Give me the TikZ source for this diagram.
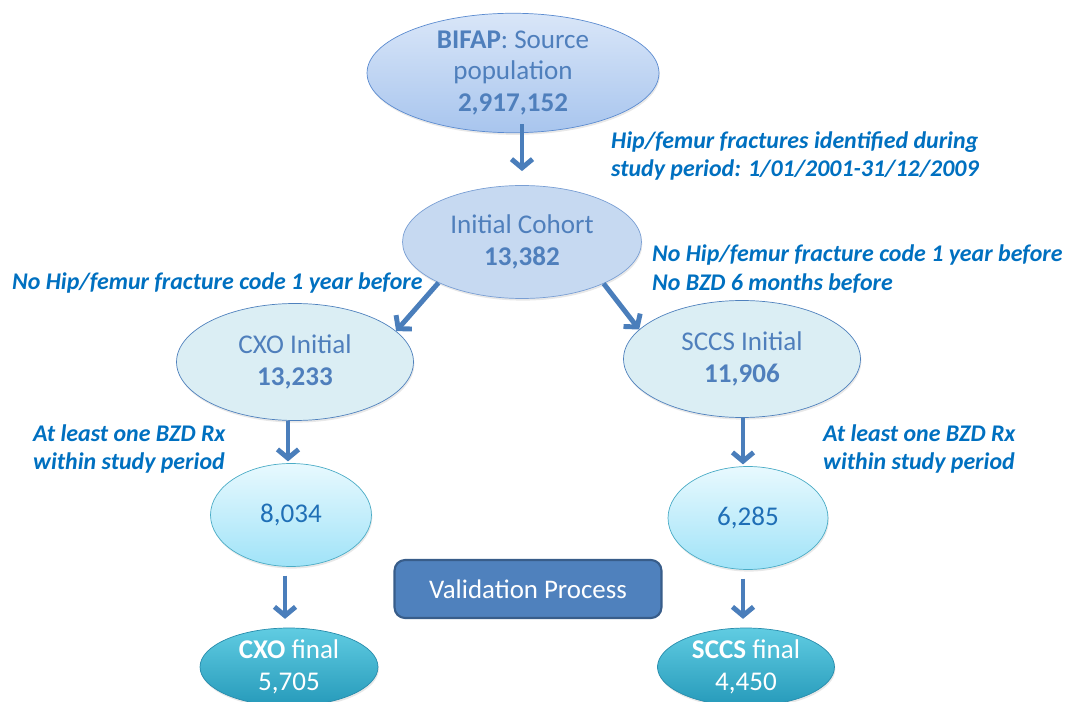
\documentclass[tikz,border=0pt]{standalone}
\usepackage{fontspec}
\setmainfont{Carlito}
\usetikzlibrary{shapes.geometric,arrows.meta,shadows}
\definecolor{arrowblue}{HTML}{4A7EBB}
\definecolor{critblue}{HTML}{0070C0}
\definecolor{textblue}{HTML}{4F7FBC}
\definecolor{countblue}{HTML}{1F6FB6}
\definecolor{procfill}{HTML}{4F81BD}
\definecolor{procedge}{HTML}{385D8A}
\definecolor{srcedge}{HTML}{5B8BD0}
\definecolor{srctop}{HTML}{D9E6F8}
\definecolor{srcbottom}{HTML}{A8C5EE}
\definecolor{cohedge}{HTML}{7A9FD4}
\definecolor{cohfill}{HTML}{C6D9F1}
\definecolor{inifill}{HTML}{DBEEF4}
\definecolor{cntedge}{HTML}{4BACC6}
\definecolor{cnttop}{HTML}{E8F9FE}
\definecolor{cntbottom}{HTML}{A0E3F8}
\definecolor{finedge}{HTML}{288CAC}
\definecolor{fintop}{HTML}{60CCE2}
\definecolor{finbottom}{HTML}{269ABA}
\tikzset{
  bubble/.style={ellipse, draw, thin, inner sep=0pt, align=center,
    font=\fontsize{15.4}{18}\selectfont,
    drop shadow={opacity=0.18, shadow xshift=0.5pt, shadow yshift=-1.2pt}},
  source/.style={bubble, draw=srcedge, top color=srctop, bottom color=srcbottom, text=textblue},
  crit/.style={anchor=west, align=left, text=critblue, font=\fontsize{13.6}{16}\selectfont\bfseries\itshape}
}
\tikzstyle{cohort} = [bubble, draw=cohedge, fill=cohfill, text=textblue]
\tikzstyle{initial} = [bubble, draw=procfill, fill=inifill, text=textblue]
\tikzstyle{count} = [bubble, draw=cntedge, top color=cnttop, bottom color=cntbottom, text=countblue]
\tikzstyle{final} = [bubble, draw=finedge, top color=fintop, bottom color=finbottom, text=white]
\tikzstyle{flow} = [draw=arrowblue, line width=2.8pt, -{Straight Barb[length=5pt,width=12pt]}]

\begin{document}
\begin{tikzpicture}[x=0.02cm, y=-0.02cm]
  \useasboundingbox (0,0) rectangle (1065,702);

  % population boxes
  \node[source, minimum width=5.84cm, minimum height=2.36cm] (bifap) at (513,73)
       {\textbf{BIFAP}: Source\\population\\\textbf{2,917,152}};
  \node[cohort, minimum width=4.78cm, minimum height=2.26cm] (cohort) at (522,242)
       {Initial Cohort\\\textbf{13,382}};
  \node[initial, minimum width=4.74cm, minimum height=2.34cm] (cxo) at (295,362)
       {CXO Initial\\\textbf{13,233}};
  \node[initial, minimum width=4.74cm, minimum height=2.34cm] (sccs) at (742,359)
       {SCCS Initial\\\textbf{11,906}};
  \node[count, minimum width=3.22cm, minimum height=2.06cm] (cxorx) at (291,515) {8,034};
  \node[count, minimum width=3.20cm, minimum height=2.06cm] (sccsrx) at (748,518) {6,285};
  \node[final, minimum width=3.56cm, minimum height=1.56cm] (cxofin) at (289,667)
       {\textbf{CXO} final\\5,705};
  \node[final, minimum width=3.54cm, minimum height=1.56cm] (sccsfin) at (746,667)
       {\textbf{SCCS} final\\4,450};

  \node[draw=procedge, line width=1.2pt, fill=procfill, rounded corners=6pt, text=white,
        minimum width=5.34cm, minimum height=1.16cm, font=\fontsize{15.3}{18}\selectfont]
       (valid) at (528,589) {Validation Process};

  % selection criteria
  \node[crit] (period) at (605,156) {Hip/femur fractures identified during\\study period: 1/01/2001-31/12/2009};
  \node[crit] (leftcrit) at (6,283) {No Hip/femur fracture code 1 year before};
  \node[crit] (rightcrit) at (646,269) {No Hip/femur fracture code 1 year before\\No BZD 6 months before};
  \node[crit] (cxocrit) at (27,449) {At least one BZD Rx\\within study period};
  \node[crit] (sccscrit) at (817,449) {At least one BZD Rx\\within study period};

  % arrows
  \path[flow, shorten <=-5pt, shorten >=8pt] ([xshift=0.18cm]bifap.south) -- ([xshift=0.18cm]bifap.south |- cohort.north);
  \path[flow] (cohort.206) -- (cxo.17);
  \path[flow] (cohort.-27) -- (sccs.164);
  \foreach \source/\dest/\dx in {cxo/cxorx/-7, sccs/sccsrx/1} {
      \path[flow, shorten >=1pt] ([xshift=\dx*0.02cm]\source.south) -- ([xshift=\dx*0.02cm]\source.south |- \dest.north);
  }
  \foreach \source/\dest/\dx in {cxorx/cxofin/-6, sccsrx/sccsfin/-5} {
      \path[flow, shorten <=5pt, shorten >=5pt] ([xshift=\dx*0.02cm]\source.south) -- ([xshift=\dx*0.02cm]\source.south |- \dest.north);
  }
\end{tikzpicture}
\end{document}
